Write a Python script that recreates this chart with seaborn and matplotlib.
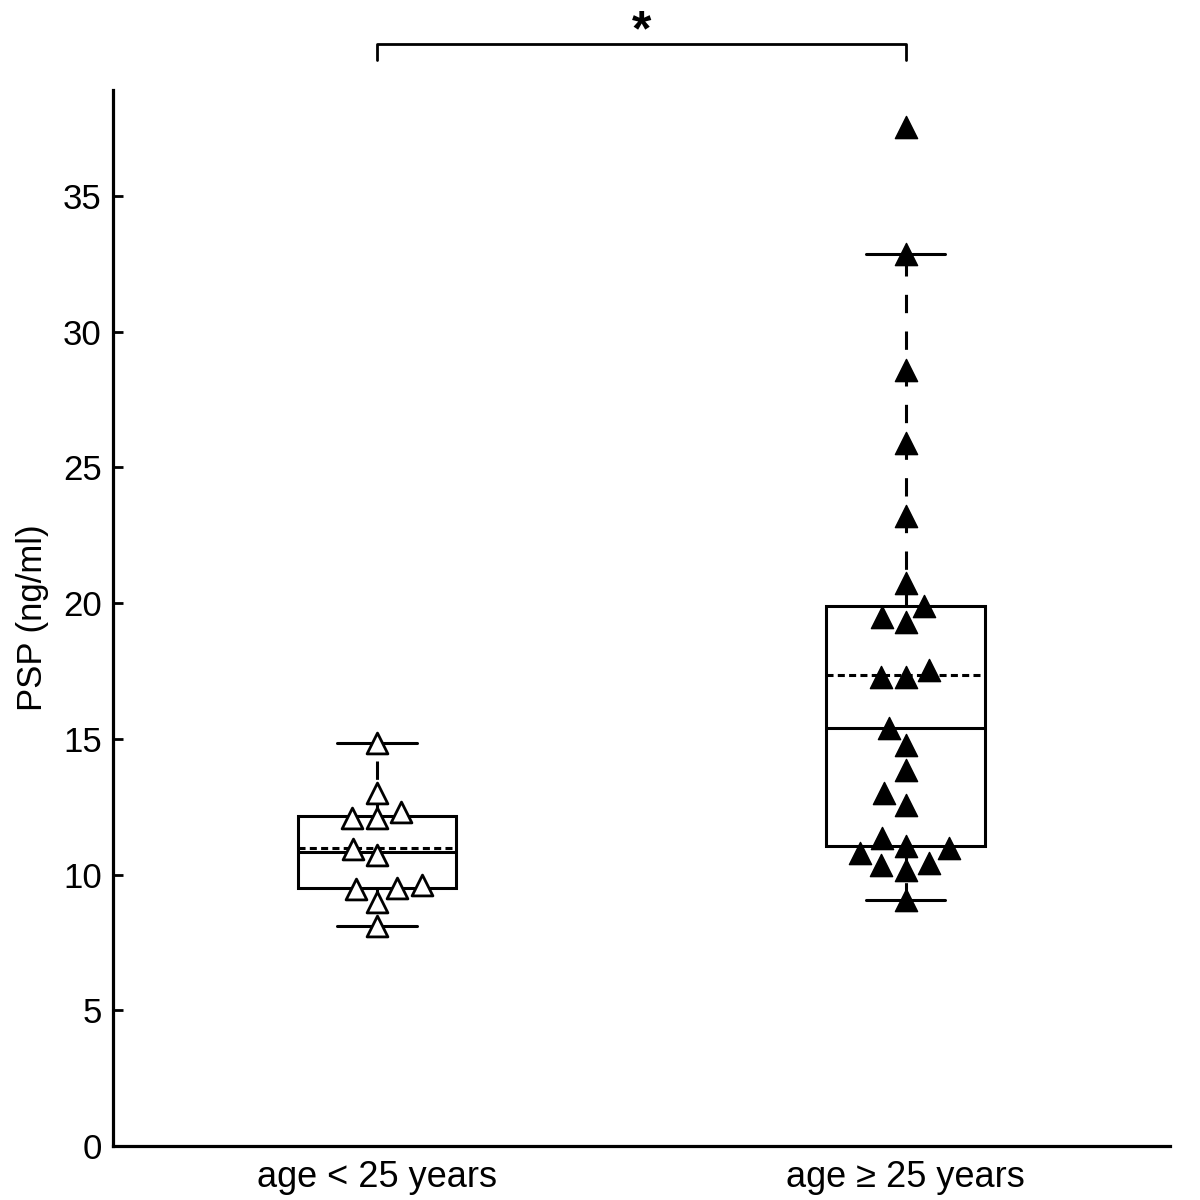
import numpy as np
import pandas as pd
import matplotlib
matplotlib.use("Agg")
import matplotlib.pyplot as plt
import seaborn as sns

# group labels
groups = ["age < 25 years", "age \u2265 25 years"]

# PSP values (ng/ml)
psp_young = [14.85, 13.0, 12.3, 12.1, 12.1, 10.95, 10.72, 9.5, 9.6, 9.45, 9.0, 8.1]
psp_old = [37.55, 32.85, 28.6, 25.9, 23.2, 20.74, 19.9, 19.5, 19.3, 17.54,
           17.28, 17.28, 15.4, 14.77, 13.85, 13.0, 12.56, 11.35, 11.05, 10.98,
           10.8, 10.43, 10.35, 10.17, 9.06]

yticks = [0, 5, 10, 15, 20, 25, 30, 35]

df = pd.DataFrame({
    "group": [groups[0]] * len(psp_young) + [groups[1]] * len(psp_old),
    "psp": psp_young + psp_old,
})

sns.set_style("white")
plt.rcParams["font.family"] = ["Liberation Sans", "DejaVu Sans"]
plt.rcParams["text.color"] = "black"
plt.rcParams["axes.labelcolor"] = "black"
plt.rcParams["xtick.color"] = "black"
plt.rcParams["ytick.color"] = "black"

fig = plt.figure(figsize=(12, 12), dpi=100)
ax = fig.add_axes([0.094, 0.045, 0.881, 0.88])

lw = 2.2
sns.boxplot(
    data=df, x="group", y="psp", order=groups, ax=ax,
    width=0.3, color="white", linecolor="black", linewidth=lw,
    whis=1.5, showfliers=False, showmeans=True, meanline=True,
    meanprops={"color": "black", "linestyle": (0, (2.3, 1.4)), "linewidth": lw},
    whiskerprops={"color": "black", "linestyle": (0, (6, 6)), "linewidth": lw},
    medianprops={"color": "black", "linewidth": lw},
    capprops={"color": "black", "linewidth": lw},
)

# data points: open triangles for young, filled for older
sns.swarmplot(data=df[df["group"] == groups[0]], x="group", y="psp", order=groups,
              ax=ax, marker="^", color="white", edgecolor="black", linewidth=2.0,
              size=15, zorder=3)
sns.swarmplot(data=df[df["group"] == groups[1]], x="group", y="psp", order=groups,
              ax=ax, marker="^", color="black", edgecolor="black", linewidth=1.0,
              size=16, zorder=3)

ax.set_xlim(-0.5, 1.5)
ax.set_ylim(0, 38.9)
ax.set_yticks(yticks)
ax.set_xlabel("")
ax.set_ylabel("PSP (ng/ml)", fontsize=25, labelpad=10)

for side in ["top", "right"]:
    ax.spines[side].set_visible(False)
for side in ["left", "bottom"]:
    ax.spines[side].set_linewidth(2.3)
    ax.spines[side].set_color("black")

ax.tick_params(axis="y", direction="in", length=7, width=2.0, labelsize=25, pad=8, left=True)
ax.tick_params(axis="x", length=0, labelsize=26, pad=10)

# significance bracket
ax.plot([0, 0, 1, 1], [40.0, 40.6, 40.6, 40.0], color="black", lw=2.0, clip_on=False)
ax.text(0.5, 40.16, "*", ha="center", va="bottom", fontsize=36, fontweight="bold")

plt.savefig("out.png", dpi=100)
